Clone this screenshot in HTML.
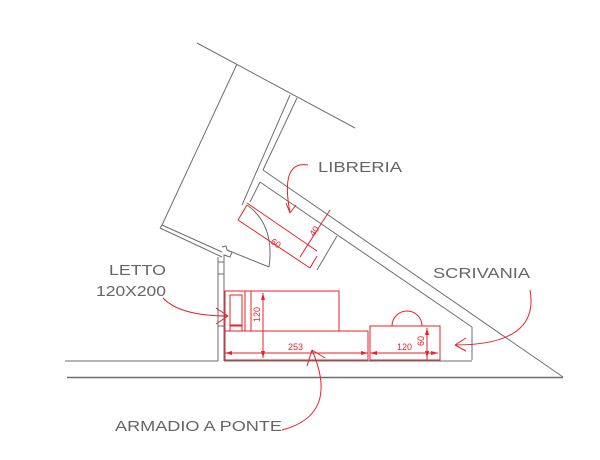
<!DOCTYPE html>
<html><head><style>html,body{margin:0;padding:0;background:#fff}svg{display:block}</style></head>
<body>
<svg width="600" height="460" viewBox="0 0 600 460" xmlns="http://www.w3.org/2000/svg">
<g stroke="#6e6e6e" stroke-width="1" fill="none">
<line x1="197" y1="43" x2="355" y2="128"/>
<line x1="237" y1="64" x2="162" y2="225"/>
<line x1="290" y1="95" x2="242" y2="205"/>
<line x1="297" y1="98" x2="263" y2="170"/>
<line x1="263" y1="170" x2="563" y2="377"/>
<line x1="260" y1="182" x2="472" y2="327"/>
<line x1="472" y1="327" x2="472" y2="360"/>
<line x1="260" y1="182" x2="250" y2="202"/>
<line x1="337" y1="236" x2="317" y2="270"/>
<line x1="162" y1="225" x2="160" y2="228"/>
<line x1="160" y1="228" x2="222" y2="257"/>
<line x1="162" y1="225" x2="222" y2="252"/>
<line x1="227" y1="250" x2="269" y2="267"/>
<path d="M222 247 L226 246 L227 250 L232 252 L230 257 L224 255 L224 262 L218 262 L218 257"/>
<path d="M247 205 Q275 225 269 267"/>
<line x1="218" y1="258" x2="218" y2="361"/>
<line x1="224" y1="262" x2="224" y2="361"/>
<line x1="218" y1="274" x2="224" y2="274"/>
<line x1="218" y1="326" x2="224" y2="326"/>
<line x1="65" y1="361" x2="218" y2="361"/>
<line x1="224" y1="361" x2="472" y2="361"/>
<line x1="67" y1="377.5" x2="563" y2="377.5" stroke-width="1.6"/>
</g>
<g stroke="#e8202a" stroke-width="1" fill="none">
<rect x="225" y="291" width="114" height="40"/>
<rect x="230" y="295" width="12" height="30"/>
<rect x="230" y="326" width="12" height="5"/>
<line x1="245" y1="291" x2="245" y2="331"/>
<line x1="251" y1="291" x2="251" y2="331"/>
<rect x="225" y="331" width="143" height="29"/>
<rect x="370" y="326" width="70" height="34"/>
<path d="M392 326 A15 15 0 0 1 422 326"/>
<line x1="263" y1="293" x2="263" y2="358"/>
<line x1="225" y1="353" x2="368" y2="353"/>
<line x1="370" y1="353" x2="438" y2="353"/>
<line x1="427" y1="328" x2="427" y2="360"/>
<line x1="238" y1="220" x2="310" y2="268"/>
<line x1="238" y1="220" x2="247" y2="205"/>
<line x1="310" y1="268" x2="317" y2="256"/>
<line x1="247" y1="203" x2="317" y2="251"/>
<line x1="300" y1="257" x2="330" y2="210"/>
<path d="M163 298 Q180 316 228 316"/>
<line x1="216" y1="308" x2="228" y2="316"/><line x1="216" y1="324" x2="228" y2="316"/>
<path d="M308 165 Q280 160 290 213"/>
<line x1="286" y1="203" x2="290" y2="213"/><line x1="296" y1="205" x2="290" y2="213"/>
<path d="M530 290 Q540 345 455 345"/>
<line x1="466" y1="338" x2="455" y2="345"/><line x1="466" y1="351" x2="455" y2="345"/>
<path d="M282 430 Q340 415 312 350"/>
<line x1="307" y1="366" x2="312" y2="350"/><line x1="325" y1="358" x2="312" y2="350"/>
</g>
<g fill="#e8202a">
<path d="M225 353 l7 -2 v4z"/><path d="M368 353 l-7 -2 v4z"/><path d="M370 353 l7 -2 v4z"/><path d="M438 353 l-7 -2 v4z"/>
<path d="M263 293 l-2 7 h4z"/><path d="M263 358 l-2 -7 h4z"/>
<path d="M427 328 l-2 7 h4z"/><path d="M427 358 l-2 -7 h4z"/>
</g>
<g fill="#e8202a" font-family="Liberation Sans, sans-serif" font-size="9">
<text x="288" y="350">253</text>
<text x="397" y="350">120</text>
<text transform="translate(260,322) rotate(-90)">120</text>
<text transform="translate(424,346) rotate(-90)">60</text>
<text transform="translate(270,243) rotate(34)">60</text>
<text transform="translate(314,237) rotate(-56)">40</text>
</g>
<g fill="#666" font-family="Liberation Sans, sans-serif" font-size="15">
<text x="318" y="172" textLength="84" lengthAdjust="spacingAndGlyphs">LIBRERIA</text>
<text x="433" y="278" textLength="97" lengthAdjust="spacingAndGlyphs">SCRIVANIA</text>
<text x="109" y="275" textLength="57" lengthAdjust="spacingAndGlyphs">LETTO</text>
<text x="96" y="296" textLength="70" lengthAdjust="spacingAndGlyphs">120X200</text>
<text x="115" y="431" textLength="167" lengthAdjust="spacingAndGlyphs">ARMADIO A PONTE</text>
</g>
</svg>
</body></html>
